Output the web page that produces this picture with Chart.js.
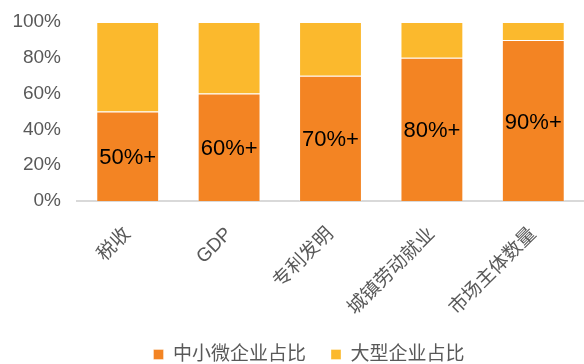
<!DOCTYPE html>
<html>
<head>
<meta charset="utf-8">
<script src="https://cdn.jsdelivr.net/npm/chart.js@4"></script>
<style>
  html, body { margin: 0; padding: 0; background: #fff; }
  #wrap { width: 584px; height: 364px; }
</style>
</head>
<body>
<div id="wrap"><canvas id="c" width="584" height="364"></canvas></div>
<script>
const categories = ['税收', 'GDP', '专利发明', '城镇劳动就业', '市场主体数量'];
const smeShare = [50, 60, 70, 80, 90];
const largeShare = [50, 40, 30, 20, 10];
const barLabels = ['50%+', '60%+', '70%+', '80%+', '90%+'];
const seriesNames = ['中小微企业占比', '大型企业占比'];
const yTicks = [0, 20, 40, 60, 80, 100];

const FONT = '"Liberation Sans", Arial, "Noto Sans CJK SC", sans-serif';
const GRAY = '#595959';

// labels in the middle of the orange segments
const barText = {
    id: 'barText',
    afterLayout(chart) {
        // legend sits a bit right of the canvas centre in the original
        chart.legend.left += 17;
        chart.legend.right += 17;
    },
    afterDatasetsDraw(chart) {
        const ctx = chart.ctx;
        const meta = chart.getDatasetMeta(0);
        ctx.save();
        ctx.font = '22px ' + FONT;
        ctx.fillStyle = '#000';
        ctx.textAlign = 'center';
        ctx.textBaseline = 'middle';
        meta.data.forEach((bar, i) => {
            const mid = (bar.y + bar.base) / 2;
            ctx.fillText(barLabels[i], bar.x, mid + 2);
        });
        ctx.restore();
    }
};

new Chart(document.getElementById('c'), {
    type: 'bar',
    data: {
        labels: categories,
        datasets: [
            {
                label: seriesNames[0],
                data: smeShare,
                backgroundColor: '#F38423',
                borderColor: 'rgba(255,255,255,0.35)',
                borderWidth: 1,
                categoryPercentage: 0.62,
                barPercentage: 1
            },
            {
                label: seriesNames[1],
                data: largeShare,
                backgroundColor: '#FBB92D',
                borderColor: 'rgba(255,255,255,0.35)',
                borderWidth: 1,
                categoryPercentage: 0.62,
                barPercentage: 1
            }
        ]
    },
    options: {
        responsive: false,
        animation: false,
        layout: { padding: { top: 22, right: 0, left: 0, bottom: -10 } },
        plugins: {
            legend: {
                position: 'bottom',
                labels: {
                    boxWidth: 10,
                    boxHeight: 10,
                    color: GRAY,
                    font: { size: 19, family: FONT },
                    padding: 25
                }
            },
            tooltip: { enabled: false }
        },
        scales: {
            x: {
                stacked: true,
                afterFit(scale) { scale.height = 119; },
                grid: { display: false },
                border: { color: '#D9D9D9', width: 2 },
                ticks: {
                    color: GRAY,
                    font: { size: 19, family: FONT },
                    minRotation: 45,
                    maxRotation: 45,
                    padding: 14
                }
            },
            y: {
                stacked: true,
                min: 0,
                max: 100,
                afterFit(scale) {
                    scale.width = 77;
                    scale.paddingTop = 0;
                    scale.paddingBottom = 0;
                },
                afterBuildTicks(scale) { scale.ticks = yTicks.map(v => ({ value: v })); },
                grid: { display: false, drawTicks: false },
                border: { display: false },
                ticks: {
                    color: GRAY,
                    font: { size: 19, family: FONT },
                    padding: 16,
                    callback: v => v + '%'
                }
            }
        }
    },
    plugins: [barText]
});
</script>
</body>
</html>
